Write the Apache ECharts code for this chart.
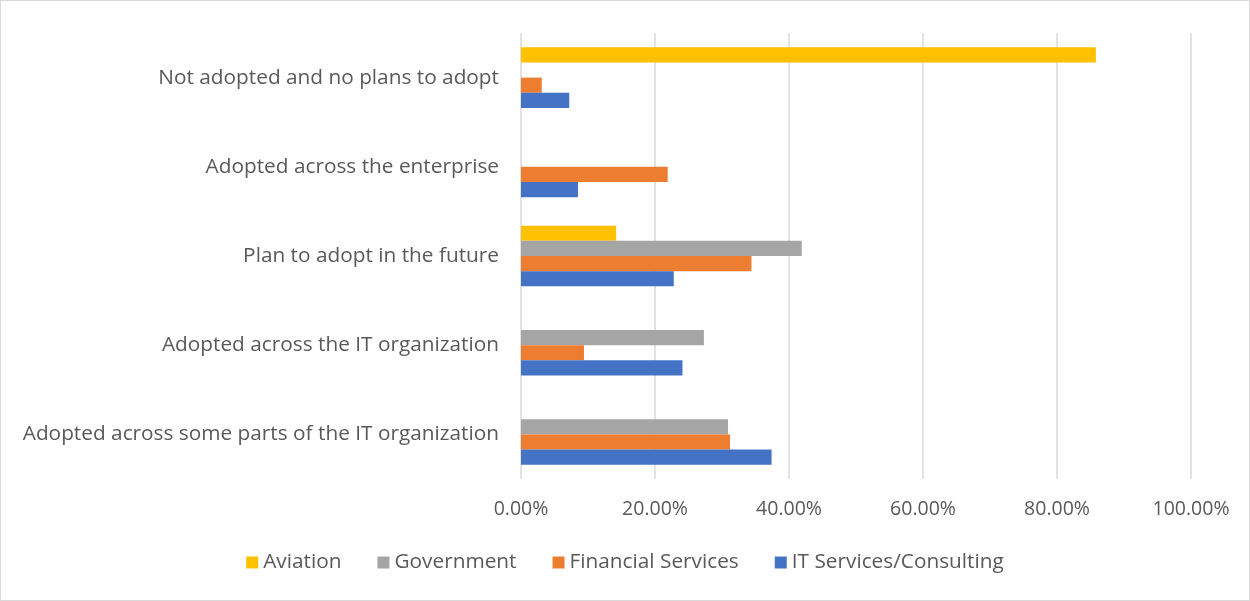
<!DOCTYPE html>
<html>
<head>
<meta charset="utf-8">
<script src="https://cdn.jsdelivr.net/npm/echarts@6/dist/echarts.min.js"></script>
<style>
  html, body { margin: 0; padding: 0; background: #fff; }
  #chart { width: 1248px; height: 599px; border: 1px solid #d9d9d9; }
</style>
</head>
<body>
<div id="chart"></div>
<script>
// Adoption status, listed bottom to top as drawn on the category axis
const categories = [
  'Adopted across some parts of the IT organization',
  'Adopted across the IT organization',
  'Plan to adopt in the future',
  'Adopted across the enterprise',
  'Not adopted and no plans to adopt'
];

// Share of respondents per industry (percent)
const itServices = [37.4, 24.1, 22.8, 8.5, 7.2];
const financialServices = [31.2, 9.4, 34.4, 21.9, 3.1];
const government = [30.9, 27.3, 41.9, 0, 0];
const aviation = [0, 0, 14.2, 0, 85.8];

const xTicks = { min: 0, max: 100, interval: 20 };

const legendOrder = ['Aviation', 'Government', 'Financial Services', 'IT Services/Consulting'];

const font = '"Open Sans", Lato, sans-serif';
const textColor = '#595959';

const chart = echarts.init(document.getElementById('chart'));

function barSeries(name, data, color) {
  return {
    name: name,
    type: 'bar',
    data: data,
    barGap: '0%',
    barCategoryGap: '32%',
    itemStyle: { color: color },
    emphasis: { disabled: true }
  };
}

chart.setOption({
  animation: false,
  grid: { left: 520, right: 58, top: 32, bottom: 121, containLabel: false },
  xAxis: {
    type: 'value',
    min: xTicks.min,
    max: xTicks.max,
    interval: xTicks.interval,
    axisLine: { show: false },
    axisTick: { show: false },
    axisLabel: {
      color: textColor,
      fontFamily: font,
      fontSize: 19.5,
      margin: 20,
      formatter: v => v.toFixed(2) + '%'
    },
    splitLine: { show: true, lineStyle: { color: '#d9d9d9', width: 1.5 } }
  },
  yAxis: {
    type: 'category',
    data: categories,
    axisLine: { show: false },
    axisTick: { show: false },
    axisLabel: {
      color: textColor,
      fontFamily: font,
      fontSize: 20.8,
      margin: 22
    }
  },
  legend: {
    data: legendOrder,
    bottom: 22,
    left: 'center',
    itemWidth: 12,
    itemHeight: 12,
    itemGap: 36,
    icon: 'rect',
    textStyle: { color: textColor, fontFamily: font, fontSize: 20.8 }
  },
  // Series listed top to bottom within each category band
  series: [
    barSeries('Aviation', aviation, '#FFC000'),
    barSeries('Government', government, '#A5A5A5'),
    barSeries('Financial Services', financialServices, '#ED7D31'),
    barSeries('IT Services/Consulting', itServices, '#4472C4')
  ]
});
</script>
</body>
</html>
